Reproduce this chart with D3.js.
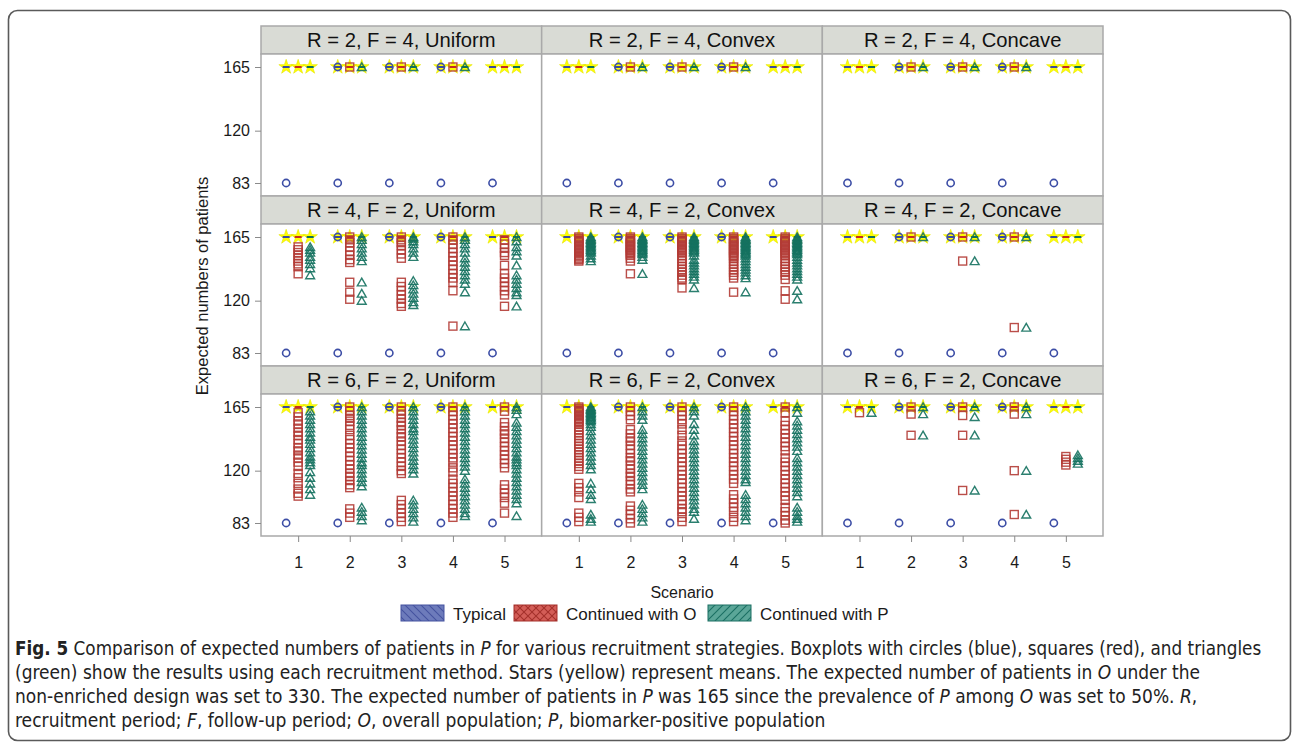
<!DOCTYPE html>
<html>
<head>
<meta charset="utf-8">
<script src="https://cdn.jsdelivr.net/npm/d3@7"></script>
<style>
  body { margin: 0; background: #fff; }
  svg { display: block; }
</style>
</head>
<body>
<svg id="chart" width="1294" height="748"></svg>
<script>
// ---- categories ----
const rowLabels = ["R = 2, F = 4", "R = 4, F = 2", "R = 6, F = 2"];
const shapeLabels = ["Uniform", "Convex", "Concave"];
const scenarios = ["1", "2", "3", "4", "5"];
const methods = ["Typical", "Continued with O", "Continued with P"];
const yTickValues = [83, 120, 165];

// box (collapsed) median and mean per method
const medianByMethod = [165, 165, 165];
const meanByMethod = [165, 165, 165];

// ---- outliers, one list per scenario ----
const typicalOutliers = [[83], [165, 83], [165, 83], [165, 83], [83]];

const contO_R2 = [[], [165], [165], [165], []];
const contP_R2 = [[], [165], [165], [165], []];

const contO_R4_Uniform = [
  [158, 156, 154, 152, 150, 148, 146, 144, 139],
  [165, 163, 161, 158, 155, 152, 149, 147, 133, 126, 121],
  [165, 163, 161, 159, 156, 153, 150, 133, 130, 127, 124, 121, 118, 116],
  [165, 163, 160, 157, 154, 151, 148, 145, 142, 139, 136, 133, 127, 102],
  [163, 160, 157, 154, 152, 145, 139, 136, 133, 130, 127, 124, 116]
];
const contP_R4_Uniform = [
  [158, 156, 154, 151, 149, 146, 143, 138],
  [165, 163, 160, 157, 154, 151, 148, 133, 125, 120],
  [165, 164, 162, 160, 157, 154, 151, 134, 131, 128, 125, 122, 119, 117],
  [165, 163, 160, 157, 154, 150, 147, 144, 141, 138, 135, 132, 126, 102],
  [165, 162, 158, 155, 152, 145, 138, 135, 132, 129, 126, 124, 116]
];

const contO_R4_Convex = [
  [165, 164, 163, 162, 161, 160, 159, 158, 157, 156, 155, 154, 153, 152, 151, 150, 149, 148],
  [165, 164, 163, 162, 161, 160, 159, 158, 157, 156, 155, 154, 153, 152, 150, 148, 139],
  [165, 164, 163, 162, 161, 160, 159, 158, 157, 156, 155, 154, 152, 150, 148, 146, 144, 142, 140, 138, 136, 135, 129],
  [165, 164, 163, 162, 161, 160, 159, 158, 157, 156, 155, 154, 153, 152, 151, 150, 148, 146, 144, 142, 140, 138, 136, 126],
  [165, 164, 163, 162, 161, 160, 159, 158, 157, 156, 155, 154, 153, 152, 150, 148, 146, 144, 142, 140, 138, 135, 127, 121]
];
const contP_R4_Convex = [
  [165, 164, 163, 162, 161, 160, 159, 158, 157, 156, 155, 154, 152, 150, 148],
  [165, 164, 163, 162, 161, 160, 159, 158, 157, 156, 155, 154, 153, 151, 149, 139],
  [165, 164, 163, 162, 161, 160, 159, 158, 157, 156, 155, 154, 152, 149, 147, 145, 143, 141, 139, 137, 135, 129],
  [165, 164, 163, 162, 161, 160, 159, 158, 157, 156, 155, 154, 153, 152, 150, 148, 146, 144, 142, 140, 138, 136, 126],
  [165, 164, 163, 162, 161, 160, 159, 158, 157, 156, 155, 154, 153, 151, 149, 147, 145, 143, 141, 139, 137, 135, 127, 121]
];

const contO_R4_Concave = [[], [165], [165, 148], [165, 101], []];
const contP_R4_Concave = [[], [165], [165, 148], [165, 101], []];

const contO_R6_Uniform = [
  [161, 158, 155, 153, 150, 147, 145, 142, 139, 136, 134, 131, 129, 126, 123, 118, 115, 111, 107, 104, 102],
  [165, 162, 159, 157, 155, 152, 149, 145, 142, 139, 136, 133, 130, 127, 124, 121, 118, 116, 113, 110, 108, 93, 90, 87],
  [165, 162, 160, 157, 154, 152, 149, 146, 144, 141, 138, 135, 132, 129, 126, 123, 120, 118, 99, 96, 93, 90, 87, 84],
  [165, 162, 159, 156, 153, 150, 147, 144, 141, 138, 135, 132, 129, 126, 122, 119, 114, 111, 108, 105, 102, 99, 96, 93, 90, 87],
  [165, 162, 154, 151, 148, 146, 143, 140, 137, 134, 131, 128, 125, 122, 110, 107, 104, 101, 97, 90]
];
const contP_R6_Uniform = [
  [162, 159, 156, 153, 150, 147, 144, 142, 139, 136, 133, 130, 128, 126, 124, 119, 115, 111, 107, 103],
  [165, 162, 159, 156, 153, 150, 147, 144, 141, 138, 135, 132, 129, 126, 124, 121, 118, 115, 112, 109, 94, 91, 88, 85],
  [165, 162, 159, 156, 153, 150, 148, 145, 142, 139, 136, 133, 130, 127, 124, 121, 118, 99, 96, 93, 90, 87, 84],
  [165, 162, 159, 156, 153, 150, 147, 144, 141, 138, 135, 132, 129, 126, 123, 120, 114, 111, 108, 105, 102, 99, 96, 93, 90, 88],
  [165, 163, 160, 154, 151, 148, 145, 142, 139, 136, 133, 130, 128, 126, 124, 121, 118, 115, 112, 109, 106, 103, 100, 97, 88]
];

const contO_R6_Convex = [
  [165, 164, 163, 162, 161, 160, 159, 158, 157, 156, 155, 154, 153, 151, 149, 147, 145, 143, 141, 139, 137, 135, 133, 131, 129, 127, 125, 123, 121, 111, 108, 105, 101, 90, 87, 84],
  [165, 162, 159, 156, 149, 146, 143, 141, 138, 135, 132, 129, 127, 124, 121, 118, 116, 113, 110, 107, 105, 95, 92, 89, 86, 83],
  [165, 162, 159, 156, 153, 149, 145, 141, 138, 135, 132, 129, 126, 123, 120, 117, 114, 111, 108, 105, 102, 99, 96, 93, 91, 87, 84],
  [165, 162, 159, 156, 153, 150, 147, 144, 141, 138, 135, 132, 129, 126, 123, 120, 117, 114, 111, 103, 100, 97, 94, 91, 87, 84],
  [165, 161, 155, 152, 149, 146, 143, 140, 137, 134, 129, 126, 123, 120, 117, 114, 111, 108, 105, 102, 99, 94, 91, 88, 85, 83]
];
const contP_R6_Convex = [
  [165, 164, 163, 162, 161, 160, 159, 158, 157, 156, 155, 153, 151, 148, 145, 142, 139, 136, 133, 130, 127, 124, 121, 111, 107, 103, 100, 89, 86, 84],
  [165, 162, 159, 156, 149, 146, 143, 140, 137, 134, 131, 128, 125, 122, 119, 116, 113, 110, 107, 96, 93, 90, 87, 84],
  [165, 162, 159, 153, 149, 145, 141, 138, 135, 132, 129, 126, 123, 120, 117, 114, 111, 108, 105, 102, 99, 96, 93, 91, 86],
  [165, 162, 159, 156, 153, 150, 147, 144, 141, 138, 135, 132, 129, 126, 123, 120, 117, 114, 112, 103, 100, 97, 94, 91, 88, 85],
  [165, 161, 155, 152, 149, 146, 143, 140, 137, 134, 129, 126, 123, 120, 117, 114, 111, 108, 105, 102, 94, 91, 88, 86, 84]
];

const contO_R6_Concave = [[161], [165, 160, 145], [165, 159, 145, 106], [165, 160, 120, 89], [130, 128, 126, 124]];
const contP_R6_Concave = [[161], [165, 160, 145], [165, 158, 145, 106], [165, 160, 120, 89], [131, 129, 127, 125]];

// panel grid, row by row
const panelOutliers = [
  [[contO_R2, contP_R2], [contO_R2, contP_R2], [contO_R2, contP_R2]],
  [[contO_R4_Uniform, contP_R4_Uniform], [contO_R4_Convex, contP_R4_Convex], [contO_R4_Concave, contP_R4_Concave]],
  [[contO_R6_Uniform, contP_R6_Uniform], [contO_R6_Convex, contP_R6_Convex], [contO_R6_Concave, contP_R6_Concave]]
];

// ---- styling ----
const markerStroke = ["#3d4ea6", "#b23b35", "#14715f"];
const dashColor = ["#3a49a0", "#c42c25", "#0f6e5c"];
const swatchFill = ["#6d7bbb", "#d35d57", "#5ba698"];
const swatchLine = ["#44529f", "#a5302b", "#1a6f62"];

const svg = d3.select("#chart");
const font = "'Liberation Sans', Arial, sans-serif";

// outer frame
svg.append("rect")
  .attr("x", 8.5).attr("y", 10.5).attr("width", 1282).attr("height", 730)
  .attr("rx", 9).attr("fill", "none").attr("stroke", "#5a5a5a").attr("stroke-width", 1.6);

// hatch patterns for legend swatches
const defs = svg.append("defs");
function hatch(id, color, dirs) {
  const p = defs.append("pattern").attr("id", id).attr("patternUnits", "userSpaceOnUse")
    .attr("width", 8).attr("height", 8);
  dirs.forEach(d => {
    p.append("path").attr("d", d === "back" ? "M-2,-2L10,10M-2,6L2,10M6,-2L10,2" : "M-2,10L10,-2M-2,2L2,-2M6,10L10,6")
      .attr("stroke", color).attr("stroke-width", 1.1);
  });
}
hatch("hatch0", swatchLine[0], ["back"]);
hatch("hatch1", swatchLine[1], ["back", "fwd"]);
hatch("hatch2", swatchLine[2], ["fwd"]);

// ---- layout ----
const gridLeft = 261, gridRight = 1103;
const colW = (gridRight - gridLeft) / 3;
const gridTop = 26, headerH = 28, plotH = 142, rowPitch = headerH + plotH;

const x = d3.scalePoint().domain(scenarios).range([0, colW]).padding(0.72);
const offset = d3.scalePoint().domain(methods).range([-12, 12]);
const yBase = d3.scaleLinear().domain([73.81, 174.19]).range([plotH, 0]);

const star = d3.symbol().type(d3.symbolStar).size(66);
const tri = d3.symbol().type(d3.symbolTriangle).size(34);

for (let r = 0; r < 3; r++) {
  for (let c = 0; c < 3; c++) {
    const px = gridLeft + c * colW;
    const hy = gridTop + r * rowPitch;
    const py = hy + headerH;
    const g = svg.append("g");

    // header strip
    g.append("rect").attr("x", px).attr("y", hy).attr("width", colW).attr("height", headerH)
      .attr("fill", "#d9dbd5").attr("stroke", "#a9a9a9").attr("stroke-width", 1.5);
    g.append("text").attr("x", px + colW / 2).attr("y", hy + 21)
      .attr("text-anchor", "middle").attr("font-family", font).attr("font-size", 20.2)
      .attr("fill", "#111").text(`${rowLabels[r]}, ${shapeLabels[c]}`);

    // plot area
    g.append("rect").attr("x", px).attr("y", py).attr("width", colW).attr("height", plotH)
      .attr("fill", "#fff").attr("stroke", "#a9a9a9").attr("stroke-width", 1.5);

    const plot = g.append("g").attr("transform", `translate(${px},${py})`);
    const series = [typicalOutliers, panelOutliers[r][c][0], panelOutliers[r][c][1]];

    // means
    scenarios.forEach(s => methods.forEach((m, mi) => {
      plot.append("path").attr("d", star)
        .attr("transform", `translate(${x(s) + offset(m)},${yBase(meanByMethod[mi])})`)
        .attr("fill", "#ffff00").attr("stroke", "#e4e400").attr("stroke-width", 0.6);
    }));
    // collapsed boxes (median dash)
    scenarios.forEach(s => methods.forEach((m, mi) => {
      const cx = x(s) + offset(m), cy = yBase(medianByMethod[mi]);
      plot.append("line").attr("x1", cx - 3.5).attr("x2", cx + 3.5).attr("y1", cy).attr("y2", cy)
        .attr("stroke", dashColor[mi]).attr("stroke-width", 2);
    }));
    // outliers
    scenarios.forEach((s, si) => methods.forEach((m, mi) => {
      const cx = x(s) + offset(m);
      series[mi][si].forEach(v => {
        const cy = yBase(v);
        if (mi === 0) {
          plot.append("circle").attr("cx", cx).attr("cy", cy).attr("r", 3.6)
            .attr("fill", "none").attr("stroke", markerStroke[0]).attr("stroke-width", 1.6);
        } else if (mi === 1) {
          plot.append("rect").attr("x", cx - 4).attr("y", cy - 4).attr("width", 8).attr("height", 8)
            .attr("fill", "none").attr("stroke", markerStroke[1]).attr("stroke-width", 1.4)
            .attr("stroke-opacity", 0.9);
        } else {
          plot.append("path").attr("d", tri).attr("transform", `translate(${cx},${cy + 1})`)
            .attr("fill", "none").attr("stroke", markerStroke[2]).attr("stroke-width", 1.4)
            .attr("stroke-opacity", 0.9);
        }
      });
    }));

    // left axis on first column
    if (c === 0) {
      const ya = d3.axisLeft(yBase).tickValues(yTickValues).tickSize(6).tickPadding(5);
      const ag = svg.append("g").attr("transform", `translate(${px},${py})`).call(ya);
      ag.select(".domain").remove();
      ag.selectAll("line").attr("stroke", "#8a8a8a");
      ag.selectAll("text").attr("font-family", font).attr("font-size", 16).attr("fill", "#1a1a1a");
    }
    // bottom axis on last row
    if (r === 2) {
      const xa = d3.axisBottom(x).tickSize(6).tickPadding(15);
      const ag = svg.append("g").attr("transform", `translate(${px},${py + plotH})`).call(xa);
      ag.select(".domain").remove();
      ag.selectAll("line").attr("stroke", "#8a8a8a");
      ag.selectAll("text").attr("font-family", font).attr("font-size", 16).attr("fill", "#1a1a1a");
    }
  }
}

// axis titles
svg.append("text").attr("transform", `translate(208,286) rotate(-90)`)
  .attr("text-anchor", "middle").attr("font-family", font).attr("font-size", 16.5).attr("fill", "#1a1a1a")
  .text("Expected numbers of patients");
svg.append("text").attr("x", (gridLeft + gridRight) / 2).attr("y", 598)
  .attr("text-anchor", "middle").attr("font-family", font).attr("font-size", 16).attr("fill", "#1a1a1a")
  .text("Scenario");

// legend
const legendX = [401, 514, 708];
methods.forEach((m, i) => {
  svg.append("rect").attr("x", legendX[i]).attr("y", 605).attr("width", 43).attr("height", 16)
    .attr("fill", swatchFill[i]).attr("stroke", swatchLine[i]).attr("stroke-width", 1);
  svg.append("rect").attr("x", legendX[i]).attr("y", 605).attr("width", 43).attr("height", 16)
    .attr("fill", `url(#hatch${i})`);
  svg.append("text").attr("x", legendX[i] + 52).attr("y", 619.5)
    .attr("font-family", font).attr("font-size", 17).attr("fill", "#1a1a1a").text(m);
});

// caption: each line is laid out naturally, then squeezed horizontally to its width
const capFont = "'DejaVu Sans Condensed', 'Liberation Sans Narrow', 'Open Sans', sans-serif";
const captionLines = [
  { y: 655, len: 1247, parts: [["Fig. 5", "b"], [" Comparison of expected numbers of patients in "], ["P", "i"], [" for various recruitment strategies. Boxplots with circles (blue), squares (red), and triangles"]] },
  { y: 679, len: 1186, parts: [["(green) show the results using each recruitment method. Stars (yellow) represent means. The expected number of patients in "], ["O", "i"], [" under the"]] },
  { y: 703, len: 1183, parts: [["non-enriched design was set to 330. The expected number of patients in "], ["P", "i"], [" was 165 since the prevalence of "], ["P", "i"], [" among "], ["O", "i"], [" was set to 50%. "], ["R", "i"], [","]] },
  { y: 727, len: 811, parts: [["recruitment period; "], ["F", "i"], [", follow-up period; "], ["O", "i"], [", overall population; "], ["P", "i"], [", biomarker-positive population"]] }
];
captionLines.forEach(line => {
  const t = svg.append("text").attr("x", 0).attr("y", 0)
    .attr("font-family", capFont).attr("font-size", 19).attr("fill", "#222");
  line.parts.forEach(([txt, st]) => {
    const ts = t.append("tspan").text(txt);
    if (st === "b") ts.attr("font-weight", "bold");
    if (st === "i") ts.attr("font-style", "italic");
  });
  const natural = t.node().getComputedTextLength();
  t.attr("transform", `translate(15,${line.y}) scale(${line.len / natural},1)`);
});
</script>
</body>
</html>
